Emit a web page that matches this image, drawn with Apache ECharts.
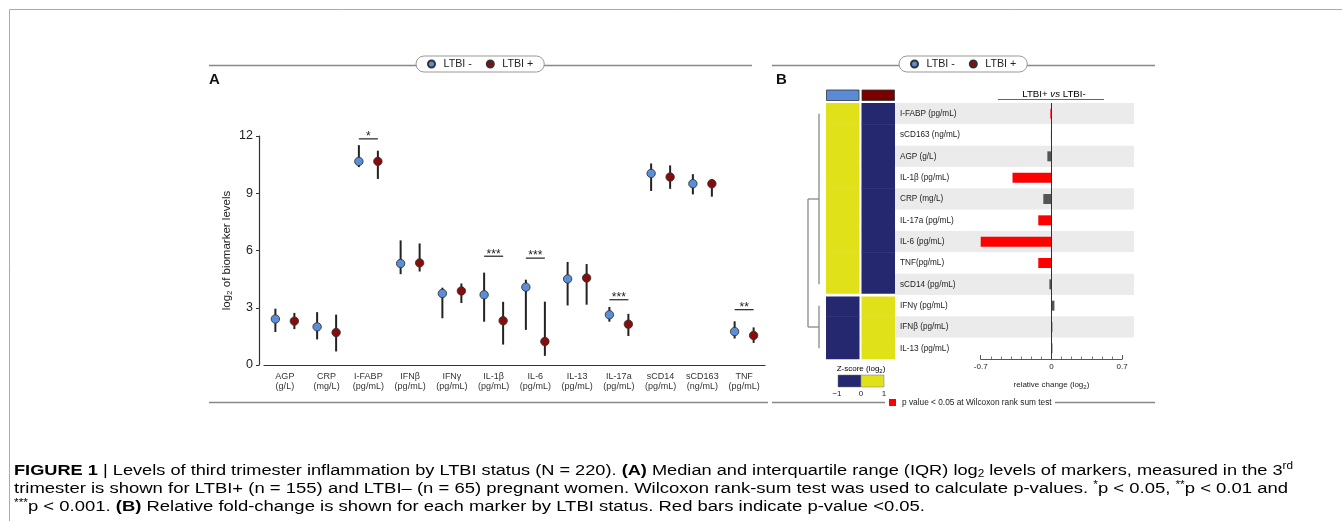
<!DOCTYPE html>
<html>
<head>
<meta charset="utf-8">
<script src="https://cdn.jsdelivr.net/npm/echarts@6.0.0/dist/echarts.min.js"></script>
<style>
html,body{margin:0;padding:0;background:#fff;overflow:hidden}
#chart{width:1342px;height:521px}
</style>
</head>
<body>
<div id="chart"></div>
<script>
// ---------------- data : panel A ----------------
const markers = ['AGP','CRP','I-FABP','IFNβ','IFNγ','IL-1β','IL-6','IL-13','IL-17a','sCD14','sCD163','TNF'];
const units   = ['(g/L)','(mg/L)','(pg/mL)','(pg/mL)','(pg/mL)','(pg/mL)','(pg/mL)','(pg/mL)','(pg/mL)','(pg/mL)','(ng/mL)','(pg/mL)'];
const groups  = ['LTBI -','LTBI +'];
const negMedian = [2.41, 2.00, 10.67, 5.32, 3.75, 3.68, 4.08, 4.51, 2.63, 10.04, 9.50, 1.75];
const negQ1     = [1.73, 1.34, 10.37, 4.76, 2.45, 2.27, 1.84, 3.12, 2.27,  9.12, 8.94, 1.39];
const negQ3     = [2.95, 2.77, 11.52, 6.53, 4.05, 4.84, 4.47, 5.40, 3.04, 10.56, 10.00, 2.29];
const posMedian = [2.30, 1.70, 10.67, 5.35, 3.88, 2.32, 1.23, 4.56, 2.14,  9.85, 9.50, 1.55];
const posQ1     = [1.88, 0.71,  9.75, 4.90, 3.25, 1.07, 0.48, 3.16, 1.52,  9.23, 8.82, 1.16];
const posQ3     = [2.73, 2.64, 11.23, 6.37, 4.27, 3.31, 3.32, 5.29, 2.68, 10.46, 9.75, 1.97];
const sigMarker = ['I-FABP','IL-1β','IL-6','IL-17a','TNF'];
const sigLevel  = [11.85, 5.70, 5.60, 3.42, 2.90];
const sigStars  = ['*','***','***','***','**'];
const yTicksA   = [0, 12, 3]; // min, max, interval

// ---------------- data : panel B ----------------
const rowLabels = ['I-FABP (pg/mL)','sCD163 (ng/mL)','AGP (g/L)','IL-1β (pg/mL)','CRP (mg/L)','IL-17a (pg/mL)','IL-6 (pg/mL)','TNF(pg/mL)','sCD14 (pg/mL)','IFNγ (pg/mL)','IFNβ (pg/mL)','IL-13 (pg/mL)'];
const zNeg    = [1, 1, 1, 1, 1, 1, 1, 1, 1, -1, -1, -1];
const zPos    = [-1, -1, -1, -1, -1, -1, -1, -1, -1, 1, 1, 1];
const cluster = [1, 1, 1, 1, 1, 1, 1, 1, 1, 2, 2, 2];
const dendro  = [[0, 8, 9, 11]];
const relChange = [-0.01, -0.005, -0.04, -0.385, -0.08, -0.13, -0.715, -0.13, -0.02, 0.03, 0.01, 0.01];
const pSig      = [true, false, false, true, false, true, true, true, false, false, false, false];
const xTicksB   = [-0.7, 0.7, 0.7]; // min, max, interval

// ---------------- styles ----------------
const FONT = 'Liberation Sans';
const colNeg = '#5b8ed8', colPos = '#8a0b0b';
const hdrNeg = '#5b8bd6', hdrPos = '#7a0000';
const heatHi = '#e1e11a', heatLo = '#25286e';
const sigRed = '#ff0000', nsGrey = '#555555';
const capColor = '#333333';

const chart = echarts.init(document.getElementById('chart'));

function pointRender(offset, color) {
  return function (params, api) {
    const c = api.coord([api.value(0), api.value(1)]);
    const lo = api.coord([api.value(0), api.value(2)]);
    const hi = api.coord([api.value(0), api.value(3)]);
    const x = c[0] + offset;
    return {type: 'group', children: [
      {type: 'line', shape: {x1: x, y1: lo[1], x2: x, y2: hi[1]}, style: {stroke: '#222', lineWidth: 2}},
      {type: 'circle', shape: {cx: x, cy: c[1], r: 4.2}, style: {fill: color, stroke: '#333', lineWidth: 0.9}}
    ]};
  };
}

const caxRich = {
  n: {fontSize: 15.5, fontFamily: FONT, color: capColor, lineHeight: 18},
  b: {fontSize: 15.5, fontFamily: FONT, color: '#231f20', fontWeight: 'bold', lineHeight: 18},
  sub: {fontSize: 10, fontFamily: FONT, color: capColor, lineHeight: 10, verticalAlign: 'bottom'},
  sup: {fontSize: 10, fontFamily: FONT, color: capColor, lineHeight: 10, verticalAlign: 'top'}
};
const captionLines = [
  [['b','FIGURE 1'],['n',' | Levels of third trimester inflammation by LTBI status (N = 220). '],['b','(A)'],['n',' Median and interquartile range (IQR) log'],['sub','2'],['n',' levels of markers, measured in the 3'],['sup','rd']],
  [['n','trimester is shown for LTBI+ (n = 155) and LTBI– (n = 65) pregnant women. Wilcoxon rank-sum test was used to calculate p-values. '],['sup','*'],['n','p < 0.05, '],['sup','**'],['n','p < 0.01 and']],
  [['sup','***'],['n','p < 0.001. '],['b','(B)'],['n',' Relative fold-change is shown for each marker by LTBI status. Red bars indicate p-value <0.05.']]
];
const captionY = [470.5, 489, 507];
const captionRight = [1293, 1288, 925];
const captionLeft = 14;

const mctx = document.createElement('canvas').getContext('2d');
function measure(segs) {
  let w = 0;
  for (const [k, t] of segs) {
    const st = caxRich[k];
    mctx.font = (st.fontWeight || 'normal') + ' ' + st.fontSize + 'px "' + FONT + '"';
    w += mctx.measureText(t).width;
  }
  return w;
}
const captionGraphics = captionLines.map((segs, i) => {
  const w = measure(segs);
  return {
    type: 'text', x: captionLeft, y: captionY[i], scaleX: (captionRight[i] - captionLeft) / w,
    style: {text: segs.map(s => '{' + s[0] + '|' + s[1] + '}').join(''), rich: caxRich, verticalAlign: 'middle', align: 'left'}
  };
});

const ruleStyle = {stroke: '#888', lineWidth: 1.3};
const smallRich = {
  n: {fontSize: 8, fontFamily: FONT, color: '#222', lineHeight: 11},
  s: {fontSize: 6, fontFamily: FONT, color: '#222', lineHeight: 6, verticalAlign: 'bottom'}
};

const graphics = [
  {type: 'line', shape: {x1: 9.5, y1: 9.5, x2: 1342, y2: 9.5}, style: {stroke: '#aaa', lineWidth: 1}},
  {type: 'line', shape: {x1: 9.5, y1: 9.5, x2: 9.5, y2: 521}, style: {stroke: '#aaa', lineWidth: 1}},
  {type: 'line', shape: {x1: 209, y1: 65.5, x2: 752, y2: 65.5}, style: ruleStyle},
  {type: 'line', shape: {x1: 772, y1: 65.5, x2: 1155, y2: 65.5}, style: ruleStyle},
  {type: 'line', shape: {x1: 209, y1: 402.5, x2: 768, y2: 402.5}, style: ruleStyle},
  {type: 'line', shape: {x1: 772, y1: 402.5, x2: 885, y2: 402.5}, style: ruleStyle},
  {type: 'line', shape: {x1: 1055, y1: 402.5, x2: 1155, y2: 402.5}, style: ruleStyle},
  {type: 'text', x: 209, y: 79.5, style: {text: 'A', fontFamily: FONT, fontSize: 15, fontWeight: 'bold', fill: '#111', verticalAlign: 'middle'}},
  {type: 'text', x: 776, y: 79.5, style: {text: 'B', fontFamily: FONT, fontSize: 15, fontWeight: 'bold', fill: '#111', verticalAlign: 'middle'}},
  {type: 'text', x: 1054, y: 94, style: {text: '{n|LTBI+ }{i|vs}{n| LTBI-}', align: 'center', verticalAlign: 'middle',
    rich: {n: {fontSize: 9.7, fontFamily: FONT, color: '#222'}, i: {fontSize: 9.7, fontFamily: FONT, color: '#222', fontStyle: 'italic'}}}},
  {type: 'line', shape: {x1: 998, y1: 99.5, x2: 1104, y2: 99.5}, style: {stroke: '#666', lineWidth: 1}},
  // Z-score legend
  {type: 'text', x: 861, y: 368.5, style: {text: '{n|Z-score (log}{s|2}{n|)}', rich: smallRich, align: 'center', verticalAlign: 'middle'}},
  {type: 'rect', shape: {x: 838, y: 375, width: 23, height: 12}, style: {fill: heatLo, stroke: '#777', lineWidth: 0.5}},
  {type: 'rect', shape: {x: 861, y: 375, width: 23, height: 12}, style: {fill: heatHi, stroke: '#777', lineWidth: 0.5}},
  {type: 'text', x: 837, y: 394, style: {text: '−1', fontFamily: FONT, fontSize: 8, fill: '#222', align: 'center', verticalAlign: 'middle'}},
  {type: 'text', x: 861, y: 394, style: {text: '0', fontFamily: FONT, fontSize: 8, fill: '#222', align: 'center', verticalAlign: 'middle'}},
  {type: 'text', x: 884, y: 394, style: {text: '1', fontFamily: FONT, fontSize: 8, fill: '#222', align: 'center', verticalAlign: 'middle'}},
  // p-value legend
  {type: 'rect', shape: {x: 889, y: 399, width: 7, height: 7}, style: {fill: sigRed}},
  {type: 'text', x: 902, y: 402.5, style: {text: 'p value < 0.05 at Wilcoxon rank sum test', fontFamily: FONT, fontSize: 8.3, fill: '#222', verticalAlign: 'middle'}}
].concat(captionGraphics);

const legendBase = {
  data: groups, top: 56, orient: 'horizontal', icon: 'circle', itemWidth: 7, itemHeight: 7, itemGap: 14,
  padding: [2.5, 11, 2.5, 11], borderColor: '#999', borderWidth: 1, borderRadius: 9, backgroundColor: '#fff',
  textStyle: {fontSize: 10.7, fontFamily: FONT, color: '#222', padding: [0, 0, 0, 3.5]}, selectedMode: false
};

const option = {
  animation: false,
  textStyle: {fontFamily: FONT},
  legend: [Object.assign({left: 416}, legendBase), Object.assign({left: 899}, legendBase)],
  graphic: graphics,
  grid: [
    {left: 264, top: 136, width: 501, height: 229},
    {left: 826, top: 103, width: 69, height: 256},
    {left: 895, top: 103, width: 239, height: 256},
    {left: 980.7, top: 103, width: 141.4, height: 256}
  ],
  xAxis: [
    {gridIndex: 0, type: 'category', data: markers,
      axisLine: {lineStyle: {color: '#333', width: 1.2}},
      axisTick: {alignWithLabel: true, length: 4, lineStyle: {color: '#333'}},
      axisLabel: {interval: 0, fontSize: 9, lineHeight: 10, color: '#333', margin: 7,
        formatter: (v, i) => v + '\n' + units[i]}},
    {gridIndex: 1, type: 'category', data: groups, show: false},
    {gridIndex: 2, type: 'value', show: false},
    {gridIndex: 3, type: 'value', min: xTicksB[0], max: xTicksB[1], interval: xTicksB[2],
      axisLine: {show: true, lineStyle: {color: '#555', width: 1}},
      axisTick: {show: true, inside: true, length: 4, lineStyle: {color: '#555'}},
      minorTick: {show: true, splitNumber: 7, length: 2.5, lineStyle: {color: '#777'}},
      splitLine: {show: false},
      axisLabel: {fontSize: 8, color: '#222', margin: 4, formatter: v => (v === 0 ? '0' : v.toFixed(1))},
      name: '{n|relative change (log}{s|2}{n|)}', nameLocation: 'middle', nameGap: 20,
      nameTextStyle: {rich: smallRich}}
  ],
  yAxis: [
    {gridIndex: 0, type: 'value', min: yTicksA[0], max: yTicksA[1], interval: yTicksA[2], offset: 5,
      axisLine: {show: true, lineStyle: {color: '#333', width: 1.2}},
      axisTick: {show: true, length: 3, lineStyle: {color: '#333'}},
      splitLine: {show: false},
      axisLabel: {fontSize: 12.5, color: '#222', margin: 6},
      name: '{a|log}{s|2}{a| of biomarker levels}', nameLocation: 'middle', nameGap: 25,
      nameTextStyle: {rich: {a: {fontSize: 11.5, fontFamily: FONT, color: '#222', lineHeight: 14},
                             s: {fontSize: 8, fontFamily: FONT, color: '#222', lineHeight: 8, verticalAlign: 'bottom'}}}},
    {gridIndex: 1, type: 'category', data: rowLabels, inverse: true, show: false},
    {gridIndex: 2, type: 'category', data: rowLabels, inverse: true,
      axisLine: {show: false}, axisTick: {show: false},
      axisLabel: {align: 'left', margin: -5, fontSize: 8.2, color: '#222'},
      splitArea: {show: true, areaStyle: {color: ['#ebebeb', '#ffffff']}}},
    {gridIndex: 3, type: 'category', data: rowLabels, inverse: true, show: false}
  ],
  series: [
    {name: groups[0], type: 'custom', xAxisIndex: 0, yAxisIndex: 0, itemStyle: {color: colNeg, borderColor: '#333', borderWidth: 0.8},
      encode: {x: 0, y: [1, 2, 3]}, renderItem: pointRender(-9.5, colNeg),
      data: markers.map((m, i) => [i, negMedian[i], negQ1[i], negQ3[i]])},
    {name: groups[1], type: 'custom', xAxisIndex: 0, yAxisIndex: 0, itemStyle: {color: colPos, borderColor: '#333', borderWidth: 0.8},
      encode: {x: 0, y: [1, 2, 3]}, renderItem: pointRender(9.5, colPos),
      data: markers.map((m, i) => [i, posMedian[i], posQ1[i], posQ3[i]])},
    {name: 'significance', type: 'custom', xAxisIndex: 0, yAxisIndex: 0, silent: true,
      encode: {x: 0, y: 1},
      data: sigMarker.map((m, i) => [markers.indexOf(m), sigLevel[i]]),
      renderItem: function (params, api) {
        const c = api.coord([api.value(0), api.value(1)]);
        return {type: 'group', children: [
          {type: 'line', shape: {x1: c[0] - 9.5, y1: c[1], x2: c[0] + 9.5, y2: c[1]}, style: {stroke: '#222', lineWidth: 1.2}},
          {type: 'text', x: c[0], y: c[1] - 2, style: {text: sigStars[params.dataIndex], fontSize: 12, fontFamily: FONT, fill: '#222', align: 'center', verticalAlign: 'middle'}}
        ]};
      }},
    {name: 'heatmap', type: 'custom', xAxisIndex: 1, yAxisIndex: 1, silent: true,
      encode: {x: 0, y: 1},
      data: rowLabels.map((r, i) => [0, i, zNeg[i]]).concat(rowLabels.map((r, i) => [1, i, zPos[i]])),
      renderItem: function (params, api) {
        const col = api.value(0), row = api.value(1), z = api.value(2);
        const c = api.coord([col, row]);
        const s = api.size([1, 1]);
        let x0 = c[0] - s[0] / 2, x1 = c[0] + s[0] / 2, y0 = c[1] - s[1] / 2, y1 = c[1] + s[1] / 2;
        if (col === 0) x1 -= 1; else x0 += 1;
        if (row > 0 && cluster[row - 1] !== cluster[row]) y0 += 1.5;
        if (row < cluster.length - 1 && cluster[row + 1] !== cluster[row]) y1 -= 1.5;
        return {type: 'rect', shape: {x: x0, y: y0, width: x1 - x0, height: y1 - y0 + 0.3}, style: {fill: z > 0 ? heatHi : heatLo}};
      }},
    {name: 'groupHeader', type: 'custom', xAxisIndex: 1, yAxisIndex: 1, silent: true, clip: false,
      encode: {x: 0, y: 1},
      data: groups.map((g, i) => [i, 0]),
      renderItem: function (params, api) {
        const col = api.value(0);
        const c = api.coord([col, 0]);
        const s = api.size([1, 1]);
        let x0 = c[0] - s[0] / 2, x1 = c[0] + s[0] / 2;
        if (col === 0) x1 -= 1; else x0 += 1;
        const top = params.coordSys.y;
        return {type: 'rect', shape: {x: x0 + 0.5, y: top - 13, width: x1 - x0 - 1, height: 10.5},
          style: {fill: col === 0 ? hdrNeg : hdrPos, stroke: '#333', lineWidth: 0.8}};
      }},
    {name: 'dendrogram', type: 'custom', xAxisIndex: 1, yAxisIndex: 1, silent: true, clip: false,
      encode: {x: -1, y: -1},
      data: dendro,
      renderItem: function (params, api) {
        const cs = params.coordSys;
        const xLeaf = cs.x - 7, xRoot = cs.x - 18;
        const y = r => api.coord([0, r])[1];
        const a0 = y(api.value(0)), a1 = y(api.value(1)), b0 = y(api.value(2)), b1 = y(api.value(3));
        const am = (a0 + a1) / 2, bm = (b0 + b1) / 2;
        const st = {stroke: '#888', lineWidth: 1.3};
        return {type: 'group', children: [
          {type: 'line', shape: {x1: xLeaf, y1: a0, x2: xLeaf, y2: a1}, style: st},
          {type: 'line', shape: {x1: xLeaf, y1: b0, x2: xLeaf, y2: b1}, style: st},
          {type: 'line', shape: {x1: xRoot, y1: am, x2: xLeaf, y2: am}, style: st},
          {type: 'line', shape: {x1: xRoot, y1: bm, x2: xLeaf, y2: bm}, style: st},
          {type: 'line', shape: {x1: xRoot, y1: am, x2: xRoot, y2: bm}, style: st}
        ]};
      }},
    {name: 'relative change', type: 'bar', xAxisIndex: 3, yAxisIndex: 3, barWidth: 10, silent: true,
      data: relChange.map((v, i) => ({value: v, itemStyle: {color: pSig[i] ? sigRed : nsGrey}})),
      markLine: {silent: true, symbol: ['none', 'none'], label: {show: false},
        lineStyle: {color: '#333', width: 1, type: 'solid'}, data: [{xAxis: 0}]}}
  ]
};
chart.setOption(option);
</script>
</body>
</html>
